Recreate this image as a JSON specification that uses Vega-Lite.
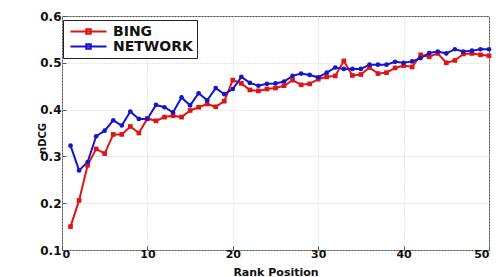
{
  "$schema": "https://vega.github.io/schema/vega-lite/v6.json",
  "autosize": "none",
  "padding": {"left": 62, "top": 16, "right": 14, "bottom": 27},
  "width": 427,
  "height": 234,
  "background": "white",
  "config": {
    "font": "DejaVu Sans",
    "view": {"stroke": "#555555", "strokeWidth": 1},
    "axis": {
      "labelFont": "DejaVu Sans",
      "labelFontWeight": "bold",
      "labelFontSize": 12,
      "labelColor": "#111111",
      "titleFont": "DejaVu Sans",
      "titleFontWeight": "bold",
      "titleFontSize": 12,
      "titleColor": "#111111",
      "gridColor": "#cccccc",
      "gridDash": [1, 2],
      "gridWidth": 1,
      "domain": false,
      "ticks": true,
      "tickSize": -4,
      "tickColor": "#555555"
    }
  },
  "data": {
    "values": [
      {"rank": 1, "method": "BING", "ndcg": 0.150},
      {"rank": 2, "method": "BING", "ndcg": 0.206},
      {"rank": 3, "method": "BING", "ndcg": 0.281},
      {"rank": 4, "method": "BING", "ndcg": 0.316},
      {"rank": 5, "method": "BING", "ndcg": 0.306},
      {"rank": 6, "method": "BING", "ndcg": 0.347},
      {"rank": 7, "method": "BING", "ndcg": 0.347},
      {"rank": 8, "method": "BING", "ndcg": 0.364},
      {"rank": 9, "method": "BING", "ndcg": 0.350},
      {"rank": 10, "method": "BING", "ndcg": 0.381},
      {"rank": 11, "method": "BING", "ndcg": 0.376},
      {"rank": 12, "method": "BING", "ndcg": 0.384},
      {"rank": 13, "method": "BING", "ndcg": 0.387},
      {"rank": 14, "method": "BING", "ndcg": 0.384},
      {"rank": 15, "method": "BING", "ndcg": 0.398},
      {"rank": 16, "method": "BING", "ndcg": 0.405},
      {"rank": 17, "method": "BING", "ndcg": 0.412},
      {"rank": 18, "method": "BING", "ndcg": 0.406},
      {"rank": 19, "method": "BING", "ndcg": 0.418},
      {"rank": 20, "method": "BING", "ndcg": 0.463},
      {"rank": 21, "method": "BING", "ndcg": 0.456},
      {"rank": 22, "method": "BING", "ndcg": 0.442},
      {"rank": 23, "method": "BING", "ndcg": 0.440},
      {"rank": 24, "method": "BING", "ndcg": 0.444},
      {"rank": 25, "method": "BING", "ndcg": 0.446},
      {"rank": 26, "method": "BING", "ndcg": 0.451},
      {"rank": 27, "method": "BING", "ndcg": 0.463},
      {"rank": 28, "method": "BING", "ndcg": 0.453},
      {"rank": 29, "method": "BING", "ndcg": 0.455},
      {"rank": 30, "method": "BING", "ndcg": 0.465},
      {"rank": 31, "method": "BING", "ndcg": 0.470},
      {"rank": 32, "method": "BING", "ndcg": 0.472},
      {"rank": 33, "method": "BING", "ndcg": 0.504},
      {"rank": 34, "method": "BING", "ndcg": 0.473},
      {"rank": 35, "method": "BING", "ndcg": 0.475},
      {"rank": 36, "method": "BING", "ndcg": 0.490},
      {"rank": 37, "method": "BING", "ndcg": 0.477},
      {"rank": 38, "method": "BING", "ndcg": 0.479},
      {"rank": 39, "method": "BING", "ndcg": 0.489},
      {"rank": 40, "method": "BING", "ndcg": 0.494},
      {"rank": 41, "method": "BING", "ndcg": 0.491},
      {"rank": 42, "method": "BING", "ndcg": 0.517},
      {"rank": 43, "method": "BING", "ndcg": 0.513},
      {"rank": 44, "method": "BING", "ndcg": 0.520},
      {"rank": 45, "method": "BING", "ndcg": 0.500},
      {"rank": 46, "method": "BING", "ndcg": 0.505},
      {"rank": 47, "method": "BING", "ndcg": 0.519},
      {"rank": 48, "method": "BING", "ndcg": 0.520},
      {"rank": 49, "method": "BING", "ndcg": 0.517},
      {"rank": 50, "method": "BING", "ndcg": 0.515},
      {"rank": 1, "method": "NETWORK", "ndcg": 0.323},
      {"rank": 2, "method": "NETWORK", "ndcg": 0.270},
      {"rank": 3, "method": "NETWORK", "ndcg": 0.288},
      {"rank": 4, "method": "NETWORK", "ndcg": 0.343},
      {"rank": 5, "method": "NETWORK", "ndcg": 0.355},
      {"rank": 6, "method": "NETWORK", "ndcg": 0.377},
      {"rank": 7, "method": "NETWORK", "ndcg": 0.366},
      {"rank": 8, "method": "NETWORK", "ndcg": 0.396},
      {"rank": 9, "method": "NETWORK", "ndcg": 0.380},
      {"rank": 10, "method": "NETWORK", "ndcg": 0.380},
      {"rank": 11, "method": "NETWORK", "ndcg": 0.410},
      {"rank": 12, "method": "NETWORK", "ndcg": 0.405},
      {"rank": 13, "method": "NETWORK", "ndcg": 0.394},
      {"rank": 14, "method": "NETWORK", "ndcg": 0.426},
      {"rank": 15, "method": "NETWORK", "ndcg": 0.409},
      {"rank": 16, "method": "NETWORK", "ndcg": 0.435},
      {"rank": 17, "method": "NETWORK", "ndcg": 0.420},
      {"rank": 18, "method": "NETWORK", "ndcg": 0.446},
      {"rank": 19, "method": "NETWORK", "ndcg": 0.433},
      {"rank": 20, "method": "NETWORK", "ndcg": 0.444},
      {"rank": 21, "method": "NETWORK", "ndcg": 0.470},
      {"rank": 22, "method": "NETWORK", "ndcg": 0.457},
      {"rank": 23, "method": "NETWORK", "ndcg": 0.451},
      {"rank": 24, "method": "NETWORK", "ndcg": 0.455},
      {"rank": 25, "method": "NETWORK", "ndcg": 0.456},
      {"rank": 26, "method": "NETWORK", "ndcg": 0.460},
      {"rank": 27, "method": "NETWORK", "ndcg": 0.472},
      {"rank": 28, "method": "NETWORK", "ndcg": 0.477},
      {"rank": 29, "method": "NETWORK", "ndcg": 0.474},
      {"rank": 30, "method": "NETWORK", "ndcg": 0.469},
      {"rank": 31, "method": "NETWORK", "ndcg": 0.479},
      {"rank": 32, "method": "NETWORK", "ndcg": 0.490},
      {"rank": 33, "method": "NETWORK", "ndcg": 0.487},
      {"rank": 34, "method": "NETWORK", "ndcg": 0.487},
      {"rank": 35, "method": "NETWORK", "ndcg": 0.487},
      {"rank": 36, "method": "NETWORK", "ndcg": 0.496},
      {"rank": 37, "method": "NETWORK", "ndcg": 0.496},
      {"rank": 38, "method": "NETWORK", "ndcg": 0.496},
      {"rank": 39, "method": "NETWORK", "ndcg": 0.502},
      {"rank": 40, "method": "NETWORK", "ndcg": 0.500},
      {"rank": 41, "method": "NETWORK", "ndcg": 0.503},
      {"rank": 42, "method": "NETWORK", "ndcg": 0.510},
      {"rank": 43, "method": "NETWORK", "ndcg": 0.521},
      {"rank": 44, "method": "NETWORK", "ndcg": 0.524},
      {"rank": 45, "method": "NETWORK", "ndcg": 0.520},
      {"rank": 46, "method": "NETWORK", "ndcg": 0.529},
      {"rank": 47, "method": "NETWORK", "ndcg": 0.524},
      {"rank": 48, "method": "NETWORK", "ndcg": 0.526},
      {"rank": 49, "method": "NETWORK", "ndcg": 0.529},
      {"rank": 50, "method": "NETWORK", "ndcg": 0.529}
    ]
  },
  "encoding": {
    "x": {
      "field": "rank",
      "type": "quantitative",
      "scale": {"domain": [0, 50], "nice": false},
      "axis": {"values": [0, 10, 20, 30, 40, 50], "title": "Rank Position", "labelFontSize": 11, "labelPadding": 2, "titleFontSize": 11, "titleY": 27, "titleBaseline": "bottom"}
    },
    "y": {
      "field": "ndcg",
      "type": "quantitative",
      "scale": {"domain": [0.1, 0.6], "nice": false, "zero": false},
      "axis": {"values": [0.1, 0.2, 0.3, 0.4, 0.5, 0.6], "format": ".1f", "title": "nDCG", "titleFontSize": 10, "titleX": -20, "titleY": 122, "titleAlign": "center", "titleBaseline": "middle", "labelPadding": 5}
    }
  },
  "layer": [
    {
      "mark": {"type": "line", "strokeWidth": 2},
      "encoding": {
        "color": {
          "field": "method",
          "type": "nominal",
          "scale": {"domain": ["BING", "NETWORK"], "range": ["#dd1515", "#1515cc"]},
          "legend": {
            "title": null,
            "orient": "none",
            "legendX": 1,
            "legendY": 4,
            "direction": "vertical",
            "padding": 4,
            "fillColor": "white",
            "strokeColor": "#222222",
            "labelFont": "DejaVu Sans",
            "labelFontWeight": "bold",
            "labelFontSize": 14,
            "labelColor": "#111111",
            "symbolType": "M-2.77,0H2.77M-0.35,-0.35H0.35V0.35H-0.35Z",
            "symbolSize": 169,
            "symbolOffset": 14,
            "symbolStrokeWidth": 2,
            "rowPadding": 0,
            "labelOffset": 17
          }
        }
      }
    },
    {
      "transform": [{"filter": "datum.method === 'BING'"}],
      "mark": {"type": "point", "filled": true, "size": 22, "opacity": 1, "shape": "square", "color": "#dd1515"},
      "encoding": {}
    },
    {
      "transform": [{"filter": "datum.method === 'NETWORK'"}],
      "mark": {"type": "point", "filled": true, "size": 22, "opacity": 1, "shape": "circle", "color": "#1515cc"},
      "encoding": {}
    }
  ]
}
